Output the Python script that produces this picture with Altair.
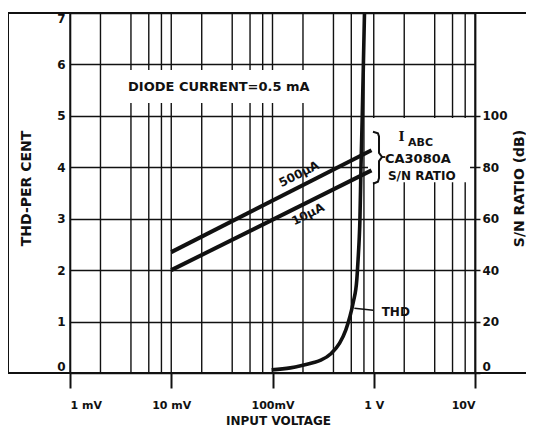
import altair as alt
import pandas as pd

# ---------------- data ----------------
# S/N ratio lines (dB, right axis) for two I_ABC currents
sn_volts = [0.01, 0.95]
sn_10uA_db = [40.0, 78.8]
sn_500uA_db = [47.0, 86.6]

# THD curve (per cent, left axis)
thd_volts = [0.098, 0.15, 0.19, 0.25, 0.30, 0.38, 0.46, 0.53, 0.58, 0.63,
             0.68, 0.70, 0.72, 0.73, 0.748, 0.77, 0.79, 0.81]
thd_pct = [0.06, 0.10, 0.14, 0.20, 0.25, 0.38, 0.58, 0.84, 1.09, 1.39,
           1.81, 2.20, 2.65, 2.97, 4.0, 5.0, 6.0, 7.0]

x_tick_values = [0.001, 0.01, 0.1, 1, 10]
x_tick_labels = ["1 mV", "10 mV", "100mV", "1 V", "10V"]
x_grid_values = [0.001, 0.002, 0.004, 0.006, 0.008,
                 0.01, 0.02, 0.04, 0.06, 0.08,
                 0.1, 0.2, 0.4, 0.6, 0.8,
                 1, 2, 4, 6, 8, 10]
thd_tick_values = [0, 1, 2, 3, 4, 5, 6, 7]
sn_tick_values = [0, 20, 40, 60, 80, 100]

# ---------------- tables ----------------
sn_df = pd.DataFrame({
    "v": sn_volts + sn_volts,
    "db": sn_10uA_db + sn_500uA_db,
    "series": ["10uA"] * len(sn_volts) + ["500uA"] * len(sn_volts),
})
thd_df = pd.DataFrame({"v": thd_volts, "pct": thd_pct})
grid_df = pd.DataFrame({"v": x_grid_values})

FONT = "DejaVu Sans"
INK = "#111111"

xscale = alt.Scale(type="log", domain=[0.001, 10], nice=False)
y_thd = alt.Scale(domain=[0, 7], nice=False)
y_sn = alt.Scale(domain=[0, 140], nice=False)

label_expr = " : ".join(
    f"abs(datum.value - {v}) < {v}*0.01 ? '{lab}'"
    for v, lab in zip(x_tick_values, x_tick_labels)
) + " : ''"

x_axis = alt.Axis(
    orient="bottom", values=x_tick_values, labelExpr=label_expr, grid=False,
    domain=False, ticks=True, tickSize=15, tickWidth=2, tickColor=INK,
    labelFont=FONT, labelFontSize=11, labelFontWeight="bold", labelColor=INK,
    labelPadding=11, title="INPUT VOLTAGE", titleFont=FONT, titleFontSize=12,
    titleFontWeight="bold", titleColor=INK, titleX=208, titleY=47,
    titleBaseline="middle", titleAlign="center",
)


def X(field):
    return alt.X(field, scale=xscale, axis=x_axis)


left_axis = alt.Axis(
    orient="left", values=thd_tick_values, grid=True, gridColor=INK,
    gridWidth=1.4, gridOpacity=1, ticks=False, domain=True, domainColor=INK,
    domainWidth=1.6, labelFont=FONT, labelFontSize=12, labelFontWeight="bold",
    labelColor=INK, labelPadding=5, labelFlush=True,
    title="THD-PER CENT", titleFont=FONT, titleFontSize=14,
    titleFontWeight="bold", titleColor=INK, titleAngle=270, titleX=-44,
    titleY=175, titleAlign="center", titleBaseline="middle",
)

right_axis = alt.Axis(
    orient="right", values=sn_tick_values, grid=False, ticks=True,
    tickSize=5, tickWidth=1.5, tickColor=INK, domain=True, domainColor=INK,
    domainWidth=1.8, labelFont=FONT, labelFontSize=12, labelFontWeight="bold",
    labelColor=INK, labelPadding=2, labelFlush=True,
    title="S/N RATIO (dB)", titleFont=FONT, titleFontSize=14,
    titleFontWeight="bold", titleColor=INK, titleAngle=270, titleX=44,
    titleY=175, titleAlign="center", titleBaseline="middle",
)

# vertical grid lines (through the log scale)
xgrid = alt.Chart(grid_df).mark_rule(color=INK, strokeWidth=1.4).encode(
    x=X("v:Q")
)

# white label backgrounds that interrupt the grid, as in the original
mask_df = pd.DataFrame({
    "x1": [0.00278, 0.877], "x2": [0.294, 8.93],
    "y1": [5.25, 3.71], "y2": [5.89, 4.96],
})
masks = alt.Chart(mask_df).mark_rect(color="white").encode(
    x=X("x1:Q"), x2="x2:Q",
    y=alt.Y("y1:Q", scale=y_thd, axis=None), y2="y2:Q",
)

thd_line = alt.Chart(thd_df).mark_line(
    color=INK, strokeWidth=3.6, interpolate="monotone"
).encode(
    x=X("v:Q"),
    y=alt.Y("pct:Q", scale=y_thd, axis=left_axis),
)

sn_lines = alt.Chart(sn_df).mark_line(color=INK, strokeWidth=4).encode(
    x=X("v:Q"),
    y=alt.Y("db:Q", scale=y_sn, axis=right_axis),
    detail="series:N",
)

# brace next to the I_ABC annotation
brace_df = pd.DataFrame({
    "i": [0, 1, 2, 3, 4, 5, 6, 7, 8],
    "v": [0.983, 1.10, 1.127, 1.127, 1.206, 1.127, 1.127, 1.10, 0.983],
    "y": [4.69, 4.66, 4.60, 4.28, 4.20, 4.12, 3.79, 3.72, 3.68],
})
brace = alt.Chart(brace_df).mark_line(color=INK, strokeWidth=2).encode(
    x=X("v:Q"),
    y=alt.Y("y:Q", scale=y_thd, axis=None),
    order="i:Q",
)
dash_df = pd.DataFrame({"x1": [1.206], "x2": [1.30], "y1": [4.20], "y2": [4.20]})
dash = alt.Chart(dash_df).mark_rule(color=INK, strokeWidth=1.8).encode(
    x=X("x1:Q"), x2="x2:Q",
    y=alt.Y("y1:Q", scale=y_thd, axis=None), y2="y2:Q",
)

# leader line from the THD label to the curve
leader_df = pd.DataFrame({"x1": [0.643], "x2": [0.99], "y1": [1.26], "y2": [1.22]})
leader = alt.Chart(leader_df).mark_rule(color=INK, strokeWidth=1.6).encode(
    x=X("x1:Q"), x2="x2:Q",
    y=alt.Y("y1:Q", scale=y_thd, axis=None), y2="y2:Q",
)


def label(text, v, y, size, align="left", angle=0, font=FONT):
    df = pd.DataFrame({"t": [text], "v": [v], "y": [y]})
    return alt.Chart(df).mark_text(
        font=font, fontSize=size, fontWeight="bold", color=INK,
        align=align, baseline="middle", angle=angle,
    ).encode(
        x=X("v:Q"),
        y=alt.Y("y:Q", scale=y_thd, axis=None),
        text="t:N",
    )


texts = [
    label("DIODE CURRENT=0.5 mA", 0.00374, 5.56, 13),
    label("I", 1.88, 4.58, 13, align="center", font="DejaVu Serif"),
    label("ABC", 2.18, 4.47, 11),
    label("CA3080A", 1.29, 4.17, 13),
    label("S/N RATIO", 1.38, 3.84, 12),
    label("THD", 1.197, 1.19, 12),
    label("500µA", 0.183, 3.87, 12, align="center", angle=333.5),
    label("10µA", 0.224, 3.09, 12, align="center", angle=333.5),
]

# outer frame of the original drawing
one = alt.Data(values=[{"k": 0}])
frame_left = alt.Chart(one).mark_rule(color=INK, strokeWidth=2).encode(
    x=alt.value(-62), y=alt.value(0), y2=alt.value(360))
frame_top = alt.Chart(one).mark_rule(color=INK, strokeWidth=2).encode(
    x=alt.value(-62), x2=alt.value(456), y=alt.value(0))
frame_bottom = alt.Chart(one).mark_rule(color=INK, strokeWidth=2).encode(
    x=alt.value(-63), x2=alt.value(456), y=alt.value(360))

chart = alt.layer(
    xgrid, masks, thd_line, sn_lines, brace, dash, leader, *texts,
    frame_left, frame_top, frame_bottom,
).resolve_scale(y="independent").properties(
    width=405, height=360,
    autosize=alt.AutoSizeParams(type="none"),
    padding={"left": 62, "top": 5, "right": 51, "bottom": 55},
    background="white",
).configure_view(stroke=None)

chart.save("out.html", embed_options={"renderer": "svg", "actions": False})
